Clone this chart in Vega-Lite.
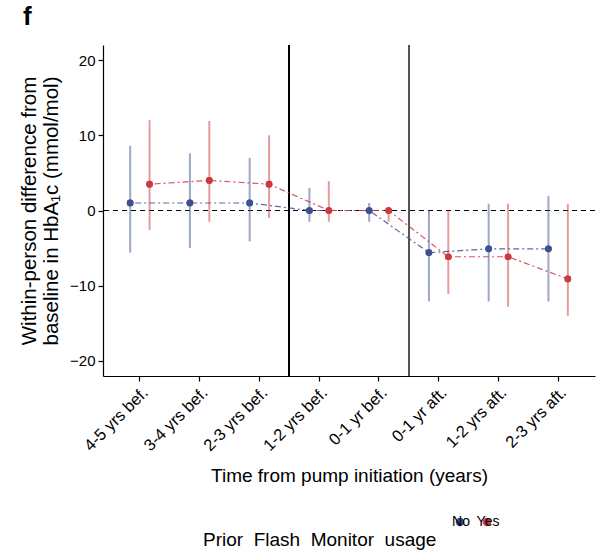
{
  "$schema": "https://vega.github.io/schema/vega-lite/v6.json",
  "width": 492,
  "height": 331,
  "autosize": "none",
  "padding": {"left": 103, "top": 45, "right": 5, "bottom": 179},
  "background": "white",
  "title": {"text": "f", "anchor": "start", "dx": -80, "offset": 14, "fontSize": 26, "fontWeight": "bold", "font": "Liberation Sans", "color": "black", "frame": "group"},
  "config": {
    "view": {"stroke": null},
    "font": "Liberation Sans",
    "axis": {"grid": false, "domainColor": "black", "tickColor": "black", "labelColor": "black", "titleColor": "black", "labelFont": "Liberation Sans", "titleFont": "Liberation Sans", "titleFontWeight": "normal", "domainWidth": 1.2, "tickWidth": 1.2, "tickSize": 5, "labelFontSize": 15, "titleFontSize": 19}
  },
  "data": {"values": [
    {"time": "4-5 yrs bef.", "group": "No", "est": 1.0, "lo": -5.6, "hi": 8.6},
    {"time": "4-5 yrs bef.", "group": "Yes", "est": 3.5, "lo": -2.6, "hi": 12.0},
    {"time": "3-4 yrs bef.", "group": "No", "est": 1.0, "lo": -5.0, "hi": 7.6},
    {"time": "3-4 yrs bef.", "group": "Yes", "est": 4.0, "lo": -1.5, "hi": 11.9},
    {"time": "2-3 yrs bef.", "group": "No", "est": 1.0, "lo": -4.1, "hi": 7.0},
    {"time": "2-3 yrs bef.", "group": "Yes", "est": 3.5, "lo": -1.0, "hi": 10.0},
    {"time": "1-2 yrs bef.", "group": "No", "est": 0.0, "lo": -1.5, "hi": 3.0},
    {"time": "1-2 yrs bef.", "group": "Yes", "est": 0.0, "lo": -1.5, "hi": 3.9},
    {"time": "0-1 yr bef.", "group": "No", "est": 0.0, "lo": -1.5, "hi": 1.0},
    {"time": "0-1 yr bef.", "group": "Yes", "est": 0.0, "lo": -1.5, "hi": 0.5},
    {"time": "0-1 yr aft.", "group": "No", "est": -5.6, "lo": -12.1, "hi": 0.0},
    {"time": "0-1 yr aft.", "group": "Yes", "est": -6.15, "lo": -11.1, "hi": 0.0},
    {"time": "1-2 yrs aft.", "group": "No", "est": -5.1, "lo": -12.1, "hi": 0.9},
    {"time": "1-2 yrs aft.", "group": "Yes", "est": -6.15, "lo": -12.8, "hi": 0.9},
    {"time": "2-3 yrs aft.", "group": "No", "est": -5.1, "lo": -12.1, "hi": 1.95},
    {"time": "2-3 yrs aft.", "group": "Yes", "est": -9.1, "lo": -14.0, "hi": 0.9}
  ]},
  "encoding": {
    "x": {"field": "time", "type": "nominal", "sort": null,
      "scale": {"type": "band", "paddingInner": 0, "paddingOuter": 0.117, "domain": ["4-5 yrs bef.", "3-4 yrs bef.", "2-3 yrs bef.", "1-2 yrs bef.", "0-1 yr bef.", "0-1 yr aft.", "1-2 yrs aft.", "2-3 yrs aft."]},
      "axis": {"title": "Time from pump initiation (years)", "labelAngle": -45, "labelAlign": "right", "labelBaseline": "top", "labelPadding": 3, "labelFontSize": 16.5, "titlePadding": 12}},
    "xOffset": {"field": "group", "type": "nominal", "scale": {"paddingInner": 0, "paddingOuter": 0.54}},
    "color": {"field": "group", "type": "nominal",
      "scale": {"domain": ["No", "Yes"], "range": ["#3d5190", "#cc3a40"]},
      "legend": {"title": "Prior\u00a0 Flash\u00a0 Monitor\u00a0 usage", "titleLimit": 500, "orient": "none", "legendX": 100, "legendY": 470, "direction": "horizontal", "titleOrient": "left", "titleFontSize": 19, "titleFontWeight": "normal", "titleColor": "black", "titleBaseline": "alphabetic", "titlePadding": 16, "labelFontSize": 14, "labelColor": "black", "labelAlign": "center", "labelBaseline": "middle", "labelOffset": -6, "columnPadding": 6,
        "labelExpr": "[datum.label, '', '', '']",
        "symbolType": "circle", "symbolSize": 50, "symbolStrokeWidth": 1.5, "symbolOpacity": 1, "symbolDash": [], "symbolFillColor": null}}
  },
  "layer": [
    {"mark": {"type": "rule", "color": "black", "strokeDash": [5, 4], "strokeWidth": 1.1}, "encoding": {"y": {"datum": 0}, "x": null, "xOffset": null, "color": null}},
    {"mark": {"type": "rule", "color": "black", "strokeWidth": 1}, "encoding": {"x": {"datum": "1-2 yrs bef.", "type": "nominal", "bandPosition": 0}, "xOffset": null, "color": null}},
    {"mark": {"type": "rule", "color": "#555555", "strokeWidth": 1.5}, "encoding": {"x": {"datum": "0-1 yr aft.", "type": "nominal", "bandPosition": 0}, "xOffset": null, "color": null}},
    {"mark": {"type": "point", "filled": true, "size": 45, "opacity": 1}, "encoding": {"y": {"field": "est", "type": "quantitative",
      "scale": {"domain": [-22, 22], "nice": false, "zero": false},
      "axis": {"values": [-20, -10, 0, 10, 20], "title": ["Within-person difference from", "baseline in HbA₁c (mmol/mol)"], "titleFontSize": 20.5, "titlePadding": 8, "titleLineHeight": 22, "labelPadding": 3}}}},
    {"mark": {"type": "rule", "strokeWidth": 2, "opacity": 0.5}, "encoding": {"y": {"field": "lo", "type": "quantitative"}, "y2": {"field": "hi"}}},
    {"mark": {"type": "line", "strokeWidth": 1.2, "strokeDash": [2, 3, 6, 3], "opacity": 0.85}, "encoding": {"y": {"field": "est", "type": "quantitative"}}},
    {"mark": {"type": "point", "filled": true, "size": 45, "opacity": 1}, "encoding": {"y": {"field": "est", "type": "quantitative"}}}
  ]
}
